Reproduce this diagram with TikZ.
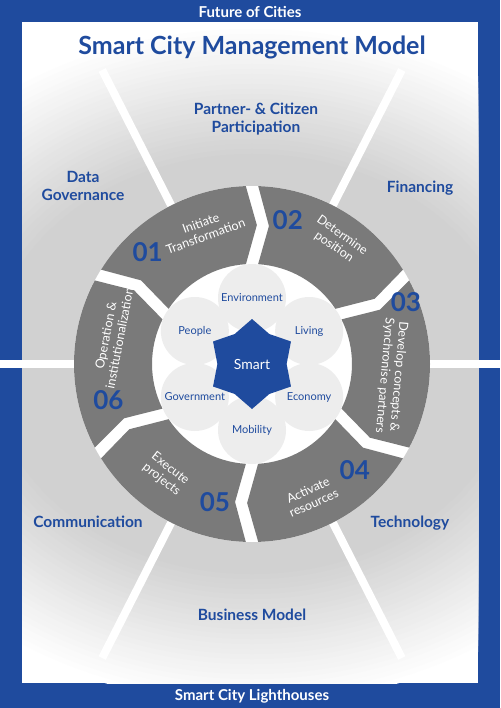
\documentclass[tikz,border=0pt]{standalone}
\usepackage{fontspec}
\setmainfont{Lato}
\usepackage{xcolor}
\usepackage{tikz}
\usetikzlibrary{positioning,calc,shapes.geometric}

\definecolor{scblue}{HTML}{1F4B9E}
\definecolor{ringgray}{HTML}{7A7A7A}
\definecolor{petalgray}{HTML}{EDEDED}

\begin{document}
\begin{tikzpicture}[
  x=1pt, y=1pt,
  title/.style={font=\fontsize{25}{27}\selectfont\bfseries, text=scblue},
  band/.style={font=\fontsize{15}{17}\selectfont\bfseries, text=white},
  sector/.style={font=\fontsize{15.5}{18.5}\selectfont\bfseries, text=scblue, align=center},
  segtext/.style={font=\fontsize{12.5}{14}\selectfont, text=white, align=center},
  num/.style={font=\fontsize{26}{26}\selectfont\bfseries, text=scblue},
  petal/.style={circle, fill=petalgray, minimum size=68pt, inner sep=0pt, font=\fontsize{11}{13}\selectfont, text=scblue},
  smart/.style={star, star points=6, star point ratio=1.3, minimum size=90pt, inner sep=0pt, fill=scblue, text=white, font=\fontsize{14}{16}\selectfont},
  ray/.style={draw=white, line width=8pt},
]
\useasboundingbox (0,0) rectangle (500,-708);
\coordinate (C) at (252,-364);
% frame and background
\fill[scblue] (0,0) rectangle (500,-708);
\begin{scope}
  \clip (22,-22) rectangle (478,-683);
  \fill[white] (22,-22) rectangle (478,-683);
  \foreach \r in {340,335,...,190} {
    \pgfmathsetmacro{\shadeamt}{min(18,18*(340-\r)/130)}
    \fill[black!\shadeamt] (C) ellipse[x radius=1.25*\r, y radius=\r];
  }
  \foreach \ang in {63,117,-63,-117}
    \draw[ray] ($(C)+(\ang:170)$) -- ($(C)+(\ang:330)$);
\end{scope}
\draw[ray] ($(C)+(180:252)$) -- ($(C)+(0:248)$);
% ring of six steps
\fill[white] (C) circle[radius=178];
\begin{scope}[shift={(C)}]
  \foreach \ang in {150,90,30,-30,-90,-150} {
    \pgfmathsetmacro{\angend}{\ang-60}
    \fill[ringgray] (\ang-2:178) arc[start angle=\ang-2, end angle=\angend+2, radius=178]
      -- (\angend+2.5-4.5:139) -- (\angend+3.5:100)
      arc[start angle=\angend+3.5, end angle=\ang-3.5, radius=100]
      -- (\ang-2.5-4.5:139) -- cycle;
  }
\end{scope}
% step texts
\node[segtext, rotate=20] (t1) at ($(C)+(110:143)$) {Initiate\\Transformation};
\node[segtext, rotate=-35] (t2) at ($(C)+(55:150)$) {Determine\\position};
\node[segtext, rotate=-95] (t3) at ($(C)+(-5:140)$) {Develop concepts \&\\Synchronise partners};
\node[segtext, rotate=24] (t4) at ($(C)+(-66:145)$) {Activate\\resources};
\node[segtext, rotate=-38] (t5) at ($(C)+(-128:140)$) {Execute\\projects};
\node[segtext, rotate=79] (t6) at ($(C)+(169:142)$) {Operation \&\\institutionalization};
% step numbers
\node[num] (n1) at ($(C)+(133:153)$) {01};
\node[num] (n2) at ($(C)+(76:148)$) {02};
\node[num] (n3) at ($(C)+(22:166)$) {03};
\node[num] (n4) at ($(C)+(-46:148)$) {04};
\node[num] (n5) at ($(C)+(-105:143)$) {05};
\node[num] (n6) at ($(C)+(-166:148)$) {06};
% petals
\foreach \ang/\name/\txt in {90/env/Environment, 30/liv/Living, -30/eco/Economy,
    -90/mob/Mobility, -150/gov/Government, 150/peo/People}
  \node[petal] (\name) at ($(C)+(\ang:66)$) {\txt};
\node[smart] (core) at (C) {Smart};
% headings
\node[band] (future) at (250,-12) {Future of Cities};
\node[band] (lighthouses) at (252,-696) {Smart City Lighthouses};
\node[title] (title) at (252,-47) {Smart City Management Model};
% fields around the ring
\node[sector] (partner) at (256,-119) {Partner- \& Citizen\\Participation};
\node[sector] (datagov) at (83,-186) {Data\\Governance};
\node[sector] (financing) at (420,-188) {Financing};
\node[sector] (communication) at (88,-522) {Communication};
\node[sector] (technology) at (410,-523) {Technology};
\node[sector] (business) at (252,-615) {Business Model};
\end{tikzpicture}
\end{document}
